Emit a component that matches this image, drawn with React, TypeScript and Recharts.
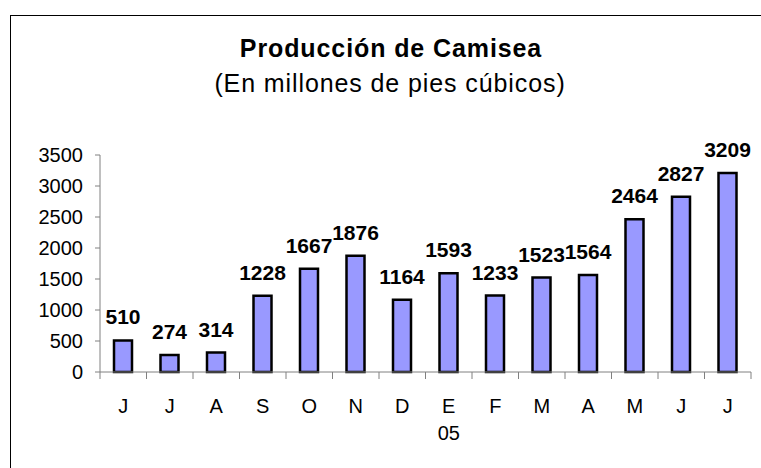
import { BarChart, Bar, XAxis, YAxis, LabelList } from 'recharts';

const months = ['J', 'J', 'A', 'S', 'O', 'N', 'D', 'E', 'F', 'M', 'A', 'M', 'J', 'J'];
const production = [510, 274, 314, 1228, 1667, 1876, 1164, 1593, 1233, 1523, 1564, 2464, 2827, 3209];
const yTicks = [0, 500, 1000, 1500, 2000, 2500, 3000, 3500];
const yearLabels: Record<number, string> = { 7: '05' };

const W = 761;
const H = 468;
const PLOT_LEFT = 100;
const PLOT_RIGHT = 10;
const BAND = (W - PLOT_LEFT - PLOT_RIGHT) / months.length;
const FONT = '"Liberation Sans", Arial, sans-serif';

const data = months.map((m, i) => ({ idx: i, month: m, value: production[i] }));

function MonthTick(props: any) {
  const { x, y, payload } = props;
  const i = Number(payload.value);
  return (
    <g>
      <line x1={x - BAND / 2} x2={x - BAND / 2} y1={y} y2={y + 7} stroke="#808080" strokeWidth={1} />
      {i === months.length - 1 && (
        <line x1={x + BAND / 2} x2={x + BAND / 2} y1={y} y2={y + 7} stroke="#808080" strokeWidth={1} />
      )}
      <text x={x} y={y + 41} textAnchor="middle" fontSize={20} fill="#000" fontFamily={FONT}>
        {months[i]}
      </text>
      {yearLabels[i] && (
        <text x={x} y={y + 68} textAnchor="middle" fontSize={20} fill="#000" fontFamily={FONT}>
          {yearLabels[i]}
        </text>
      )}
    </g>
  );
}

export default function App() {
  return (
    <div style={{ position: 'absolute', left: 0, top: 0, width: W, height: H, overflow: 'hidden', background: '#fff' }}>
      <div
        style={{
          position: 'absolute',
          left: 10,
          top: 15,
          width: 800,
          height: 500,
          border: '1px solid #000',
        }}
      />
      <div
        style={{
          position: 'absolute',
          left: 0,
          width: 782,
          top: 33,
          textAlign: 'center',
          fontFamily: FONT,
          fontWeight: 'bold',
          fontSize: 25,
          letterSpacing: 0.9,
          lineHeight: '30px',
        }}
      >
        Producción de Camisea
      </div>
      <div
        style={{
          position: 'absolute',
          left: 0,
          width: 780,
          top: 68,
          textAlign: 'center',
          fontFamily: FONT,
          fontSize: 25,
          letterSpacing: 0.9,
          lineHeight: '30px',
        }}
      >
        (En millones de pies cúbicos)
      </div>
      <div style={{ position: 'absolute', left: 0, top: 0 }}>
        <BarChart width={W} height={H} data={data} margin={{ top: 155, right: PLOT_RIGHT, bottom: 36, left: 0 }}>
          <XAxis
            dataKey="idx"
            type="category"
            height={60}
            tickSize={0}
            tickMargin={0}
            tickLine={false}
            interval={0}
            axisLine={{ stroke: '#808080', strokeWidth: 1 }}
            tick={<MonthTick />}
          />
          <YAxis
            width={PLOT_LEFT}
            domain={[0, 3500]}
            ticks={yTicks}
            interval={0}
            tickSize={5}
            tickMargin={12}
            axisLine={{ stroke: '#808080', strokeWidth: 1 }}
            tickLine={{ stroke: '#808080', strokeWidth: 1 }}
            tick={{ fill: '#000', fontSize: 20, fontFamily: FONT }}
          />
          <Bar dataKey="value" fill="#9999FF" stroke="#000" strokeWidth={2.5} barSize={18} isAnimationActive={false}>
            <LabelList
              dataKey="value"
              position="top"
              offset={16}
              fill="#000"
              fontSize={21}
              fontWeight="bold"
              fontFamily={FONT}
            />
          </Bar>
        </BarChart>
      </div>
    </div>
  );
}
